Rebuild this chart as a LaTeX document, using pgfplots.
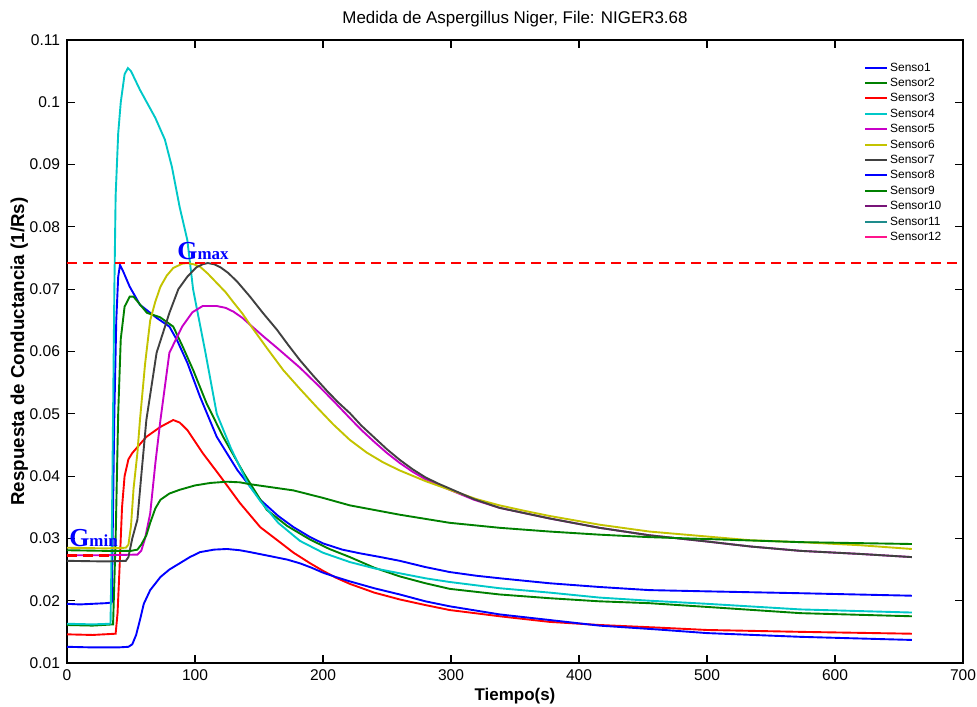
\documentclass[border=0pt]{standalone}
\usepackage{pgfplots}
\pgfplotsset{compat=1.18}
\usepackage{fontspec}
\setmainfont{Liberation Sans}
\newfontfamily\serifb{Liberation Serif}
\usetikzlibrary{calc}
\definecolor{sa}{RGB}{0,0,255}
\definecolor{sb}{RGB}{0,128,0}
\definecolor{sc}{RGB}{255,0,0}
\definecolor{sd}{RGB}{0,200,200}
\definecolor{se}{RGB}{200,0,200}
\definecolor{sf}{RGB}{195,195,0}
\definecolor{sg}{RGB}{64,64,64}
\definecolor{sj}{RGB}{120,20,120}
\definecolor{sk}{RGB}{30,140,140}
\definecolor{sl}{RGB}{255,20,140}
\begin{document}
\begin{tikzpicture}
\begin{axis}[
  scale only axis, width=448bp, height=311.5bp,
  xmin=0, xmax=700, ymin=0.01, ymax=0.11,
  xtick={0,100,...,700},
  ytick={0.01,0.02,0.03,0.04,0.05,0.06,0.07,0.08,0.09,0.1,0.11},
  scaled y ticks=false,
  yticklabel style={/pgf/number format/fixed, /pgf/number format/precision=2},
  /pgf/number format/assume math mode=true,
  tick label style={font=\fontsize{7.8}{8}\selectfont},
  tick align=inside, tick pos=both, major tick length=4bp,
  axis line style={line width=0.6pt}, every tick/.style={black, line width=0.6pt},
  title={Medida de Aspergillus Niger, File: NIGER3.68},
  title style={font=\fontsize{8.5}{9}\selectfont, yshift=-3bp},
  xlabel={Tiempo(s)}, ylabel={Respuesta de Conductancia (1/Rs)},
  xlabel style={font=\fontsize{8.5}{9}\selectfont\bfseries, yshift=3bp},
  ylabel style={font=\fontsize{9.4}{10}\selectfont\bfseries, yshift=-6bp},
  legend style={draw=none, fill=white, at={(0.985,0.975)}, anchor=north east,
    font=\fontsize{6}{6}\selectfont, row sep=0pt,
    nodes={inner sep=0.9pt, text height=4.7bp, text depth=1.2bp}},
  legend cell align=left,
  legend image post style={line width=1pt},
  legend image code/.code={\draw[#1] (0cm,0cm) -- (11bp,0cm);},
  every axis plot/.append style={line width=0.95pt},
]
\coordinate (bl) at (rel axis cs:0,0);
\coordinate (tr) at (rel axis cs:1,1);
% Senso1
\addplot[sa] coordinates {(0,0.0195)(10,0.0194)(20,0.0195)(30,0.0196)(35,0.0197)(36,0.035)(37,0.05)(38.5,0.065)(40,0.072)(41.4,0.0739)(44,0.0728)(49,0.0704)(57,0.0675)(70,0.0654)(80,0.064)(86,0.0618)(94,0.0582)(104,0.0527)(117,0.0463)(133,0.041)(151,0.0362)(165,0.0336)(177,0.0318)(190,0.0302)(200,0.0292)(215,0.0282)(229,0.0276)(245,0.027)(260,0.0264)(280,0.0254)(299,0.0246)(320,0.024)(338,0.0236)(377,0.0228)(416,0.0222)(455,0.0217)(500,0.0215)(573,0.0212)(660,0.0208)};
\addlegendentry{Senso1}
% Sensor2
\addplot[sb] coordinates {(0,0.0161)(20,0.016)(36,0.0162)(38,0.03)(40,0.05)(42,0.062)(45,0.0672)(49,0.0688)(52,0.0688)(56,0.0678)(62.5,0.0662)(72.7,0.0655)(83,0.064)(90.6,0.0607)(98.6,0.057)(109,0.0517)(122,0.0463)(138,0.0405)(156,0.0346)(172,0.032)(190,0.0298)(205,0.0283)(221,0.027)(240,0.0253)(260,0.0239)(280,0.0228)(299,0.0219)(338,0.021)(377,0.0204)(416,0.0199)(455,0.0196)(500,0.019)(573,0.018)(660,0.0175)};
\addlegendentry{Sensor2}
% Sensor3
\addplot[sc] coordinates {(0,0.0146)(20,0.0145)(38,0.0147)(39.5,0.018)(41,0.025)(43,0.035)(45,0.040)(48,0.0427)(51,0.0437)(62,0.0463)(73,0.0479)(83,0.049)(88,0.0486)(94,0.0474)(106,0.0437)(120,0.0399)(135,0.0357)(151,0.0318)(165,0.0296)(177,0.0277)(190,0.026)(200,0.0248)(210,0.0237)(221,0.0227)(240,0.0213)(260,0.0202)(280,0.0193)(299,0.0185)(338,0.0175)(377,0.0166)(416,0.0161)(460,0.0157)(500,0.0153)(573,0.015)(660,0.0147)};
\addlegendentry{Sensor3}
% Sensor4
\addplot[sd] coordinates {(0,0.0163)(20,0.0162)(34,0.0163)(35,0.03)(36,0.05)(37,0.07)(38,0.085)(40,0.095)(42,0.1)(45,0.1045)(47.6,0.1055)(50,0.105)(57,0.102)(69,0.0975)(76.5,0.094)(82,0.0896)(88,0.0832)(94,0.0779)(98.5,0.07)(108,0.06)(117,0.05)(128,0.0445)(141,0.0389)(151,0.036)(165,0.0325)(182,0.0296)(200,0.0277)(221,0.0262)(240,0.0252)(260,0.0244)(280,0.0236)(299,0.023)(338,0.022)(377,0.0213)(416,0.0205)(455,0.02)(500,0.0195)(573,0.0186)(660,0.0181)};
\addlegendentry{Sensor4}
% Sensor5
\addplot[se] coordinates {(0,0.0273)(30,0.0273)(55,0.0274)(58,0.028)(61,0.03)(65,0.034)(69,0.042)(73,0.049)(80,0.0598)(90,0.064)(98,0.0663)(106,0.0673)(117,0.0673)(124,0.067)(130,0.0664)(137,0.0654)(143,0.0643)(153,0.0625)(164,0.0606)(173,0.059)(182,0.0574)(195,0.0548)(208,0.0521)(221,0.0493)(230,0.0474)(240,0.0455)(250,0.0437)(260,0.0421)(270,0.0407)(280,0.0395)(290,0.0386)(299,0.0378)(318,0.0362)(338,0.0349)(377,0.0332)(416,0.0317)(455,0.0305)(500,0.0295)(534,0.0287)(573,0.028)(620,0.0275)(660,0.027)};
\addlegendentry{Sensor5}
% Sensor6
\addplot[sf] coordinates {(0,0.0285)(30,0.0284)(46,0.0285)(48,0.029)(50,0.032)(52,0.038)(55,0.0437)(57,0.049)(61,0.058)(65,0.065)(69,0.068)(73,0.0704)(78,0.0722)(83,0.0734)(90,0.0741)(94,0.0742)(99,0.074)(104,0.0736)(110,0.0725)(117,0.071)(124,0.0695)(130,0.0679)(137,0.0661)(143,0.0643)(156,0.0606)(169,0.057)(182,0.054)(195,0.0511)(208,0.0483)(221,0.0458)(234,0.0438)(247,0.0422)(260,0.0409)(280,0.0392)(299,0.0378)(320,0.0363)(338,0.0353)(358,0.0344)(377,0.0336)(416,0.0322)(455,0.0311)(534,0.0297)(573,0.0294)(620,0.0289)(660,0.0283)};
\addlegendentry{Sensor6}
% Sensor7
\addplot[sg] coordinates {(0,0.0264)(30,0.0263)(46,0.0264)(48,0.027)(51,0.03)(55,0.033)(58,0.04)(62,0.049)(70,0.0598)(80,0.0662)(87,0.07)(94,0.072)(101,0.0735)(106,0.074)(110,0.0742)(115,0.074)(120,0.0735)(126,0.0726)(133,0.0712)(143,0.0688)(153,0.0662)(164,0.0635)(173,0.061)(182,0.0586)(192,0.0562)(203,0.0537)(212,0.0518)(221,0.0501)(230,0.0481)(240,0.0462)(250,0.0443)(260,0.0426)(270,0.0411)(280,0.0398)(290,0.0388)(299,0.038)(318,0.0363)(338,0.0349)(377,0.0332)(416,0.0317)(455,0.0305)(500,0.0295)(534,0.0287)(573,0.028)(620,0.0275)(660,0.027)};
\addlegendentry{Sensor7}
% Sensor8
\addplot[sa] coordinates {(0,0.0126)(20,0.0125)(40,0.0125)(48,0.0126)(51,0.013)(54,0.0145)(57,0.0169)(60,0.0195)(65,0.0217)(73,0.0238)(80,0.025)(88,0.026)(96,0.027)(104,0.0278)(115,0.0282)(125,0.0283)(135,0.0281)(143,0.0278)(160,0.0271)(172,0.0266)(182,0.026)(191,0.0253)(200,0.0245)(210,0.0238)(221,0.0231)(240,0.022)(260,0.021)(280,0.0199)(299,0.0191)(338,0.0178)(377,0.0169)(416,0.016)(460,0.0154)(500,0.0148)(573,0.0142)(660,0.0137)};
\addlegendentry{Sensor8}
% Sensor9
\addplot[sb] coordinates {(0,0.0281)(30,0.028)(50,0.028)(55,0.0282)(58,0.029)(62,0.0305)(65,0.0325)(69,0.0348)(73,0.0362)(80,0.0372)(88,0.0378)(100,0.0385)(112,0.0389)(125,0.0391)(135,0.039)(143,0.0387)(177,0.0377)(200,0.0365)(221,0.0353)(260,0.0338)(299,0.0325)(338,0.0317)(377,0.0311)(416,0.0306)(455,0.0302)(500,0.0299)(573,0.0294)(660,0.0291)};
\addlegendentry{Sensor9}
\addlegendimage{sj}
\addlegendentry{Sensor10}
\addlegendimage{sk}
\addlegendentry{Sensor11}
\addlegendimage{sl}
\addlegendentry{Sensor12}
% Gmax and Gmin markers
\addplot[sc, line width=1.4pt, dash pattern=on 5bp off 3bp, forget plot] coordinates {(0,0.0742)(700,0.0742)};
\addplot[sc, line width=1.4pt, dash pattern=on 5bp off 3bp, forget plot] coordinates {(0,0.0273)(37,0.0273)};
\node[anchor=base west, inner sep=0pt, text=sa] at (axis cs:86,0.0747)
  {\serifb\bfseries\fontsize{13}{13}\selectfont G\fontsize{8.5}{9}\selectfont max};
\node[anchor=base west, inner sep=0pt, text=sa] at (axis cs:1.5,0.0287)
  {\serifb\bfseries\fontsize{13}{13}\selectfont G\fontsize{8.5}{9}\selectfont min};
\end{axis}
\pgfresetboundingbox
\path ($(bl)+(-33.5bp,-22bp)$) rectangle ($(tr)+(7bp,20bp)$);
\end{tikzpicture}
\end{document}
